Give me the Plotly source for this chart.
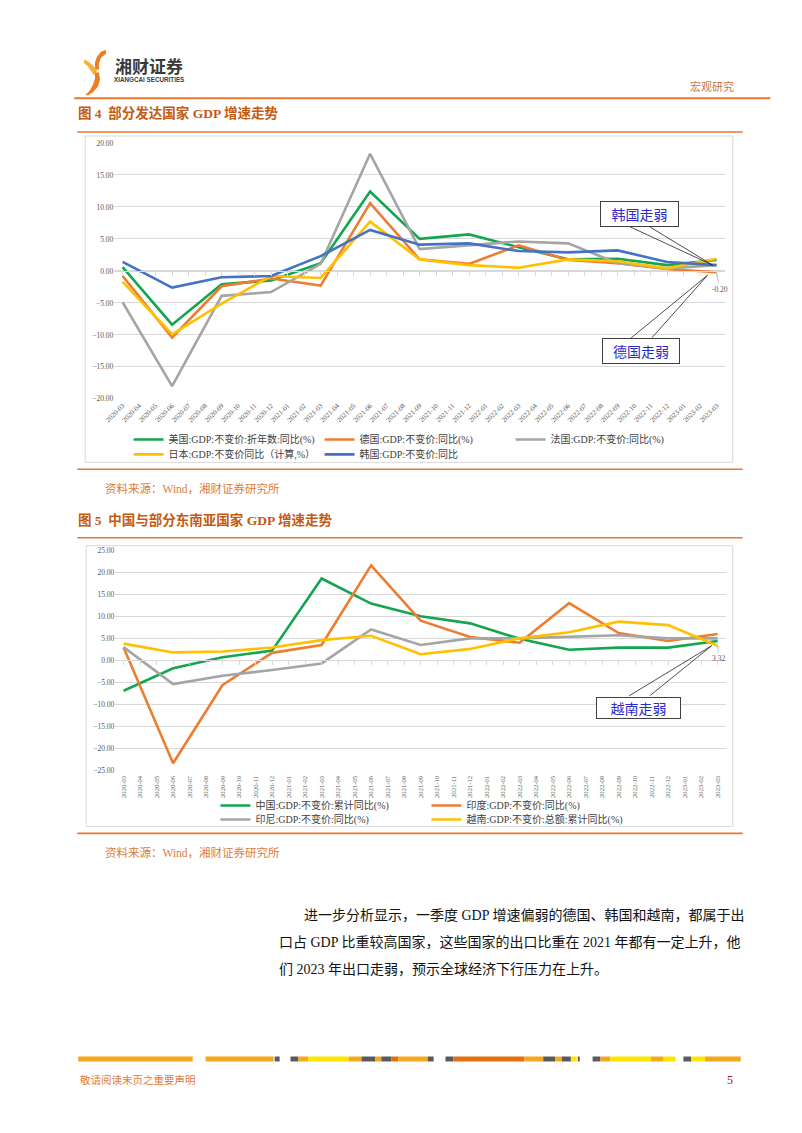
import plotly.graph_objects as go

# The page body keeps its default 8px margin on every side, so the figure is made
# 16px smaller than the window and page-pixel positions are converted with that offset.
W0, H0 = 802, 1133
OFF = 8
W, H = W0 - 2 * OFF, H0 - 2 * OFF
def fx(p): return (p - OFF) / W
def fy(p): return 1 - (p - OFF) / H

SERIF = "Liberation Serif, Noto Sans CJK SC"
CJK = "Noto Sans CJK SC"

# ---------------- data ----------------
months = ["2020-03", "2020-04", "2020-05", "2020-06", "2020-07", "2020-08", "2020-09", "2020-10",
          "2020-11", "2020-12", "2021-01", "2021-02", "2021-03", "2021-04", "2021-05", "2021-06",
          "2021-07", "2021-08", "2021-09", "2021-10", "2021-11", "2021-12", "2022-01", "2022-02",
          "2022-03", "2022-04", "2022-05", "2022-06", "2022-07", "2022-08", "2022-09", "2022-10",
          "2022-11", "2022-12", "2023-01", "2023-02", "2023-03"]
quarters = ["2020-03", "2020-06", "2020-09", "2020-12", "2021-03", "2021-06", "2021-09",
            "2021-12", "2022-03", "2022-06", "2022-09", "2022-12", "2023-03"]

# Figure 4
us = [0.6, -8.4, -2.1, -1.5, 1.2, 12.4, 5.0, 5.7, 3.7, 1.8, 1.9, 0.9, 1.7]
germany = [-0.8, -10.4, -2.4, -1.2, -2.3, 10.6, 1.8, 1.1, 4.0, 1.7, 1.2, 0.3, -0.2]
france = [-4.9, -18.0, -3.9, -3.3, 1.1, 18.3, 3.4, 4.0, 4.6, 4.3, 1.2, 0.4, 0.9]
japan = [-1.7, -9.9, -5.1, -0.8, -1.1, 7.7, 1.8, 0.9, 0.5, 1.8, 1.5, 0.4, 1.9]
korea = [1.4, -2.6, -1.0, -0.8, 2.3, 6.4, 4.1, 4.3, 3.1, 2.9, 3.2, 1.4, 0.9]

# Figure 5
china = [-6.9, -1.8, 0.7, 2.2, 18.6, 12.9, 10.0, 8.4, 4.9, 2.4, 2.9, 2.9, 4.4]
india = [2.9, -23.4, -5.6, 1.7, 3.5, 21.6, 9.0, 5.3, 4.0, 13.0, 6.2, 4.4, 6.0]
indonesia = [3.0, -5.4, -3.5, -2.2, -0.7, 7.0, 3.5, 5.0, 5.0, 5.4, 5.7, 5.0, 5.0]
vietnam = [3.8, 1.8, 2.0, 2.9, 4.6, 5.6, 1.4, 2.6, 5.0, 6.4, 8.8, 8.0, 3.32]

GREEN, ORANGE, GRAY, YELLOW, BLUE = "#13A54F", "#ED7D31", "#A5A5A5", "#FFC000", "#4472C4"

fig = go.Figure()

c1 = [("美国:GDP:不变价:折年数:同比(%)", us, GREEN, "legend"),
      ("德国:GDP:不变价:同比(%)", germany, ORANGE, "legend"),
      ("法国:GDP:不变价:同比(%)", france, GRAY, "legend"),
      ("日本:GDP:不变价同比（计算,%）", japan, YELLOW, "legend2"),
      ("韩国:GDP:不变价:同比", korea, BLUE, "legend2")]
for name, vals, col, leg in c1:
    fig.add_trace(go.Scatter(x=quarters, y=vals, name=name, mode="lines",
                             line=dict(color=col, width=2.6), xaxis="x", yaxis="y",
                             legend=leg, hoverinfo="skip"))

c2 = [("中国:GDP:不变价:累计同比(%)", china, GREEN, "legend3"),
      ("印度:GDP:不变价:同比(%)", india, ORANGE, "legend3"),
      ("印尼:GDP:不变价:同比(%)", indonesia, GRAY, "legend4"),
      ("越南:GDP:不变价:总额:累计同比(%)", vietnam, YELLOW, "legend4")]
for name, vals, col, leg in c2:
    fig.add_trace(go.Scatter(x=quarters, y=vals, name=name, mode="lines",
                             line=dict(color=col, width=2.6), xaxis="x2", yaxis="y2",
                             legend=leg, hoverinfo="skip"))

GRID = "#D9D9D9"
TICKC = "#595959"

def xax(dom, zero_pos, standoff, angle, size):
    return dict(domain=dom, type="category", categoryorder="array", categoryarray=months,
                tickmode="array", tickvals=months, ticktext=months,
                range=[-0.5, len(months) - 0.5], anchor="free", position=zero_pos,
                showline=True, linecolor=GRID, linewidth=1, ticks="outside", ticklen=4,
                tickcolor=GRID, tickangle=angle, ticklabelstandoff=standoff,
                tickfont=dict(family=SERIF, size=size, color=TICKC), showgrid=False,
                zeroline=False, fixedrange=True)

def yax(dom, rng, anchor):
    return dict(domain=dom, range=rng, dtick=5, tick0=0, tickformat=".2f", anchor=anchor,
                showgrid=True, gridcolor=GRID, gridwidth=1, zeroline=False, showline=False,
                ticks="", tickfont=dict(family=SERIF, size=7.5, color=TICKC), fixedrange=True)

y1_top, y1_bot = 140, 398
y2_top, y2_bot = 550.7, 772.5
fig.update_layout(
    xaxis=xax([fx(105.6), fx(724)], fy((y1_top + y1_bot) / 2), 123, -45, 7),
    yaxis=yax([fy(y1_bot), fy(y1_top)], [-20, 20], "x"),
    xaxis2=xax([fx(106.6), fx(725)], fy((y2_top + y2_bot) / 2), 108, -90, 6.6),
    yaxis2=yax([fy(y2_bot), fy(y2_top)], [-25, 25], "x2"),
)

leg_common = dict(orientation="h", xanchor="left", yanchor="middle", bgcolor="rgba(0,0,0,0)",
                  font=dict(family=SERIF, size=10, color="#404040"), entrywidthmode="pixels",
                  tracegroupgap=0)
fig.update_layout(
    legend=dict(**leg_common, x=fx(120), y=fy(439), entrywidth=146),
    legend2=dict(**leg_common, x=fx(120), y=fy(454), entrywidth=146),
    legend3=dict(**leg_common, x=fx(208), y=fy(808), entrywidth=166),
    legend4=dict(**leg_common, x=fx(208), y=fy(822), entrywidth=166),
)

shapes = []
def pline(x0, y0, x1, y1, color, width):
    shapes.append(dict(type="line", xref="paper", yref="paper", x0=fx(x0), x1=fx(x1),
                       y0=fy(y0), y1=fy(y1), line=dict(color=color, width=width), layer="above"))
def prect(x0, y0, x1, y1, fill=None, line=None, lw=1):
    shapes.append(dict(type="rect", xref="paper", yref="paper", x0=fx(x0), x1=fx(x1),
                       y0=fy(y1), y1=fy(y0), fillcolor=fill or "rgba(0,0,0,0)",
                       line=dict(color=line or "rgba(0,0,0,0)", width=lw if line else 0),
                       layer="below"))
def ppath(pts, color):
    d = "M " + " L ".join(f"{fx(x):.5f},{fy(y):.5f}" for x, y in pts) + " Z"
    shapes.append(dict(type="path", xref="paper", yref="paper", path=d,
                       fillcolor=color, line=dict(width=0)))

RULE = "#E9772E"
pline(65, 95, 770, 95, RULE, 2)
pline(68, 129, 742, 129, RULE, 1.6)
pline(68, 469, 742, 469, RULE, 1.6)
pline(68, 538, 742, 538, RULE, 1.6)
pline(68, 836, 742, 836, RULE, 1.6)
prect(76, 133, 732, 462, line=GRID)
prect(77, 546, 732, 829, line=GRID)

# logo marks
ppath([(97, 46), (92, 48), (88, 53), (86, 59), (86, 66), (90, 66), (90, 60), (92, 54), (97, 50)], "#EE7D22")
ppath([(75, 56), (79, 58), (84, 62), (88, 67), (85, 72), (81, 66), (78, 62), (75, 60)], "#F6B13A")
ppath([(86, 69), (90, 69), (91, 76), (89, 83), (84, 89), (79, 92), (76, 92), (81, 87), (84, 81), (86, 75)], "#EE7D22")

# footer bar
O, Y, G, D = "#F4A81D", "#FFE600", "#5A5A5A", "#E27012"
segs = [(69, 185, O), (198, 267, O), (268, 273, G), (284, 292, G), (292, 302, O), (302, 343, Y),
        (343, 356, O), (356, 370, G), (370, 376, O), (376, 386, G), (386, 393, D), (393, 423, O),
        (423, 429, G), (441, 449, G), (449, 521, D), (521, 540, O), (540, 552, G), (552, 559, O),
        (559, 568, G), (568, 574, Y), (575, 577, G), (590, 598, G), (598, 608, O), (608, 649, Y),
        (649, 662, O), (662, 674, Y), (682, 690, G), (690, 704, Y), (704, 740, O)]
for a, b, c in segs:
    prect(a, 1061, b, 1066, fill=c)

anns = []
def ptext(x, y, text, size, color, family=SERIF, xanchor="left"):
    anns.append(dict(x=fx(x), y=fy(y), xref="paper", yref="paper", text=text, showarrow=False,
                     xanchor=xanchor, yanchor="middle",
                     font=dict(family=family, size=size, color=color)))

ptext(104, 62, "<b>湘财证券</b>", 17, "#3A3A3A", CJK)
ptext(103, 76, "<b>XIANGCAI SECURITIES</b>", 6.3, "#3A3A3A", "Liberation Sans Narrow, Liberation Sans")
ptext(735, 83, "宏观研究", 11, "#C8763A", SERIF, "right")
TITLEC = "#C55A11"
ptext(67, 110, "<b>图 4  部分发达国家 GDP 增速走势</b>", 13.5, TITLEC)
ptext(67, 520, "<b>图 5  中国与部分东南亚国家 GDP 增速走势</b>", 13.5, TITLEC)
SRC = "#E07B39"
ptext(94, 488, "资料来源：Wind，湘财证券研究所", 11.5, SRC)
ptext(94, 855, "资料来源：Wind，湘财证券研究所", 11.5, SRC)
ptext(296, 919, "进一步分析显示，一季度 GDP 增速偏弱的德国、韩国和越南，都属于出", 14, "#111111")
ptext(270, 946, "口占 GDP 比重较高国家，这些国家的出口比重在 2021 年都有一定上升，他", 14, "#111111")
ptext(270, 973, "们 2023 年出口走弱，预示全球经济下行压力在上升。", 14, "#111111")
ptext(69, 1085, "敬请阅读末页之重要声明", 10.5, SRC)
ptext(734, 1085, "5", 12, "#A0102A", SERIF, "right")

def box(cx, cy, text, w, h):
    anns.append(dict(x=fx(cx), y=fy(cy), xref="paper", yref="paper", text=text, showarrow=False,
                     xanchor="center", yanchor="middle", width=w, height=h, borderpad=1,
                     bordercolor="#404040", borderwidth=1, bgcolor="white",
                     font=dict(family=CJK, size=14, color="#2B2BC8")))

def arrow(xa, ya, val, ax, ay, xs, ys):
    anns.append(dict(x=quarters[-1], y=val, xref=xa, yref=ya, text="", showarrow=True,
                     arrowhead=0, arrowwidth=0.8, arrowcolor="#222222", ax=ax, ay=ay,
                     xshift=xs, yshift=ys))

box(637.5, 212, "韩国走弱", 75, 22)
arrow("x", "y", korea[-1], -84, -39, -4, 0)
arrow("x", "y", korea[-1], -64, -39, -4, 0)
box(639, 350, "德国走弱", 74, 22)
arrow("x", "y", germany[-1], -78, 64, -9, -3)
arrow("x", "y", germany[-1], -57, 64, -9, -3)
box(636.5, 710, "越南走弱", 81, 18)
arrow("x2", "y2", vietnam[-1], -84, 51, -6, 0)
arrow("x2", "y2", vietnam[-1], -63, 51, -6, 0)

# data labels on last points
anns.append(dict(x=quarters[-1], y=germany[-1], xref="x", yref="y", text=f"{germany[-1]:.2f}",
                 showarrow=True, arrowhead=0, arrowwidth=0.7, arrowcolor="#A6A6A6", ax=3, ay=17,
                 font=dict(family=SERIF, size=7.5, color=TICKC)))
anns.append(dict(x=quarters[-1], y=vietnam[-1], xref="x2", yref="y2", text=f"{vietnam[-1]:.2f}",
                 showarrow=True, arrowhead=0, arrowwidth=0.7, arrowcolor="#A6A6A6", ax=1, ay=13,
                 font=dict(family=SERIF, size=7.5, color=TICKC)))

fig.update_layout(width=W, height=H, autosize=False, margin=dict(l=0, r=0, t=0, b=0),
                  paper_bgcolor="white", plot_bgcolor="white",
                  font=dict(family=SERIF, color="#333333"),
                  shapes=shapes, annotations=anns, showlegend=True)

fig.write_html("out.html", config={"displayModeBar": False})
